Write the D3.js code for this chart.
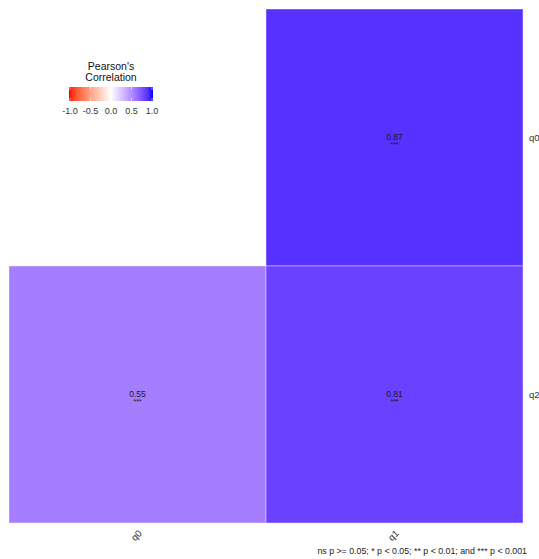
<!DOCTYPE html>
<html>
<head>
<meta charset="utf-8">
<script src="https://cdn.jsdelivr.net/npm/d3@7"></script>
<style>
  html, body { margin: 0; padding: 0; background: #fff; }
  svg { display: block; font-family: "Liberation Sans", Arial, sans-serif; }
</style>
</head>
<body>
<svg id="chart" width="539" height="559"></svg>
<script>
// Correlation matrix cells (lower triangle, column vs row variable)
const xVars = ["q0", "q1"];
const yVars = ["q0", "q2"];
const cellX = ["q1", "q0", "q1"];
const cellY = ["q0", "q2", "q2"];
const cellR = [0.87, 0.55, 0.81];
const cellSig = ["***", "***", "***"];
const legendTicks = [-1.0, -0.5, 0.0, 0.5, 1.0];
const caption = "ns p >= 0.05; * p < 0.05; ** p < 0.01; and *** p < 0.001";

const svg = d3.select("#chart");

const x = d3.scaleBand().domain(xVars).range([9, 523]);
const y = d3.scaleBand().domain(yVars).range([9, 523]);

// Diverging red–white–blue fill, interpolated in Lab space
const neg = d3.interpolateLab("#ffffff", "#ff0000");
const pos = d3.interpolateLab("#ffffff", "#0000ff");
const fill = v => v < 0 ? neg(-v) : pos(v);

const cells = cellR.map((r, i) => ({ x: cellX[i], y: cellY[i], r, sig: cellSig[i] }));

svg.append("g").selectAll("rect").data(cells).join("rect")
  .attr("x", d => x(d.x))
  .attr("y", d => y(d.y))
  .attr("width", x.bandwidth())
  .attr("height", y.bandwidth())
  .attr("fill", d => fill(d.r))
  .attr("stroke", "#ffffff")
  .attr("stroke-opacity", 0.5)
  .attr("stroke-width", 0.8);

const labels = svg.append("g").attr("font-size", 8.5).attr("fill", "#1a1a1a").attr("text-anchor", "middle");
labels.selectAll("text.val").data(cells).join("text")
  .attr("class", "val")
  .attr("x", d => x(d.x) + x.bandwidth() / 2)
  .attr("y", d => y(d.y) + y.bandwidth() / 2 + 2)
  .text(d => d3.format(".2f")(d.r));
labels.selectAll("text.sig").data(cells).join("text")
  .attr("class", "sig")
  .attr("font-size", 7)
  .attr("x", d => x(d.x) + x.bandwidth() / 2)
  .attr("y", d => y(d.y) + y.bandwidth() / 2 + 9)
  .text(d => d.sig);

// Row labels on the right
svg.append("g").selectAll("text").data(yVars).join("text")
  .attr("x", 529)
  .attr("y", d => y(d) + y.bandwidth() / 2 + 3)
  .attr("font-size", 9.5)
  .attr("fill", "#333")
  .text(d => d);

// Column labels, rotated 45°
svg.append("g").selectAll("text").data(xVars).join("text")
  .attr("transform", d => `translate(${x(d) + x.bandwidth() / 2 + 5},${534}) rotate(-45)`)
  .attr("text-anchor", "end")
  .attr("font-size", 9.5)
  .attr("fill", "#333")
  .text(d => d);

// Legend: title, colour bar, ticks
const lg = svg.append("g");
lg.append("text").attr("x", 111).attr("y", 70).attr("text-anchor", "middle")
  .attr("font-size", 10.5).attr("fill", "#111").text("Pearson's");
lg.append("text").attr("x", 111).attr("y", 81).attr("text-anchor", "middle")
  .attr("font-size", 10.5).attr("fill", "#111").text("Correlation");

const lx = d3.scaleLinear().domain([-1, 1]).range([70, 152]);
const grad = svg.append("defs").append("linearGradient").attr("id", "corrGrad")
  .attr("x1", "0%").attr("x2", "100%");
d3.range(0, 21).forEach(i => {
  const v = -1 + i / 10;
  grad.append("stop").attr("offset", `${i * 5}%`).attr("stop-color", fill(v));
});
lg.append("rect").attr("x", 69).attr("y", 87).attr("width", 84).attr("height", 14)
  .attr("fill", "url(#corrGrad)");
lg.selectAll("line").data(legendTicks).join("line")
  .attr("x1", d => lx(d)).attr("x2", d => lx(d))
  .attr("y1", 87).attr("y2", 90)
  .attr("stroke", "#fff").attr("stroke-width", 0.6);
lg.selectAll("line.b").data(legendTicks).join("line").attr("class", "b")
  .attr("x1", d => lx(d)).attr("x2", d => lx(d))
  .attr("y1", 98).attr("y2", 101)
  .attr("stroke", "#fff").attr("stroke-width", 0.6);
lg.selectAll("text.tick").data(legendTicks).join("text").attr("class", "tick")
  .attr("x", d => lx(d)).attr("y", 114)
  .attr("text-anchor", "middle").attr("font-size", 9).attr("fill", "#333")
  .text(d => d.toFixed(1));

// Caption
svg.append("text").attr("x", 527).attr("y", 554).attr("text-anchor", "end")
  .attr("font-size", 8.8).attr("fill", "#222").text(caption);
</script>
</body>
</html>
